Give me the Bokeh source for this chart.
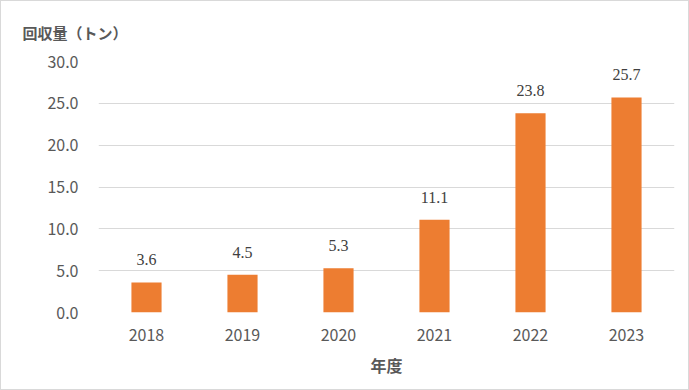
from bokeh.plotting import figure
from bokeh.models import ColumnDataSource, LabelSet, Range1d, FactorRange, SingleIntervalTicker, PrintfTickFormatter
from bokeh.embed import file_html
from bokeh.resources import INLINE

years = ["2018", "2019", "2020", "2021", "2022", "2023"]
amounts = [3.6, 4.5, 5.3, 11.1, 23.8, 25.7]
labels = ["%.1f" % v for v in amounts]
y_max = 30

FONT = "Noto Sans CJK JP"
src = ColumnDataSource(data=dict(year=years, amount=amounts, label=labels))

p = figure(width=689, height=390, output_backend="svg", toolbar_location=None,
           x_range=FactorRange(*years), y_range=Range1d(0, y_max),
           min_border_left=97, min_border_right=16, min_border_top=59, min_border_bottom=79,
           title="回収量（トン）")
p.styles = {"border": "1px solid #d9d9d9", "box-sizing": "border-box"}

p.vbar(x="year", top="amount", width=0.314, source=src, color="#ED7D31", line_color=None)
p.add_layout(LabelSet(x="year", y="amount", text="label", source=src, y_offset=17,
                      text_align="center", text_baseline="bottom",
                      text_font=FONT, text_font_size="16px", text_color="#404040"))

p.outline_line_color = None
p.xgrid.grid_line_color = None
p.ygrid.grid_line_color = "#d9d9d9"
p.ygrid.grid_line_width = 1

p.yaxis.ticker = SingleIntervalTicker(interval=5)
p.yaxis.formatter = PrintfTickFormatter(format="%.1f")
for ax in (p.xaxis, p.yaxis):
    ax.axis_line_color = None
    ax.major_tick_line_color = None
    ax.minor_tick_line_color = None
    ax.major_label_text_font = FONT
    ax.major_label_text_font_size = "16px"
    ax.major_label_text_color = "#595959"
p.yaxis.major_label_standoff = 14
p.xaxis.major_label_standoff = 10

p.xaxis.axis_label = "年度"
p.xaxis.axis_label_text_font = FONT
p.xaxis.axis_label_text_font_size = "16px"
p.xaxis.axis_label_text_font_style = "bold"
p.xaxis.axis_label_text_color = "#595959"
p.xaxis.axis_label_standoff = 9

p.title.text_font = FONT
p.title.text_font_size = "15px"
p.title.text_font_style = "bold"
p.title.text_color = "#595959"
p.title.align = "left"
p.title.offset = -76
p.title.standoff = 37

open("out.html", "w").write(file_html(p, INLINE))
